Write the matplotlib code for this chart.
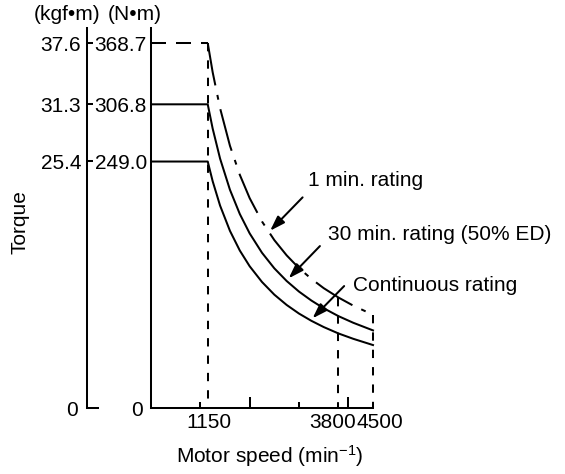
import matplotlib
matplotlib.use("Agg")
import matplotlib.pyplot as plt
from matplotlib.transforms import ScaledTranslation, blended_transform_factory

plt.rcParams['font.family'] = ['Liberation Sans', 'DejaVu Sans']
plt.rcParams['mathtext.fontset'] = 'custom'
plt.rcParams['mathtext.rm'] = 'Liberation Sans'
plt.rcParams['mathtext.it'] = 'Liberation Sans:italic'
plt.rcParams['mathtext.bf'] = 'Liberation Sans:bold'
plt.rcParams['lines.scale_dashes'] = False

# ---------------- data ----------------
speed = [0, 1150, 1250, 1400, 1600, 1800, 2000, 2250, 2500, 2750, 3000,
         3250, 3500, 3800, 4100, 4500]
torque_1min = [368.7, 368.7, 339.2, 302.9, 265.0, 235.6, 212.0, 188.4, 169.6,
               154.2, 141.3, 130.5, 121.1, 111.6, 103.4, 94.2]
torque_30min = [306.8, 306.8, 282.3, 252.0, 220.5, 196.0, 176.4, 156.8, 141.1,
                128.3, 117.6, 108.6, 100.8, 92.8, 86.1, 78.4]
torque_cont = [249.0, 249.0, 229.1, 204.5, 179.0, 159.1, 143.2, 127.3, 114.5,
               104.1, 95.4, 88.1, 81.8, 75.3, 69.9, 63.6]

nm_ticks = [249.0, 306.8, 368.7]
nm_labels = ["249.0", "306.8", "368.7"]
kgf_ticks = [25.4, 31.3, 37.6]
kgf_labels = ["25.4", "31.3", "37.6"]
x_labeled = [1150, 3800, 4500]
x_major = [2000, 4000]
x_minor = [1000, 3000]
marker_speeds = [1150, 3800, 4500]
marker_tops = [368.7, 111.6, 94.2]

labels = ["1 min. rating", "30 min. rating (50% ED)", "Continuous rating"]
label_xy = [(3180, 230.3), (3590, 174.8), (4095, 124.2)]
arrow_tail = [(3073, 212.8), (3424, 163.6), (3915, 123.2)]
arrow_head = [(2415, 179.1), (2791, 131.0), (3275, 90.6)]

NM_PER_KGF = 9.80665
FS = 15
LW = 1.45

W, H = 565, 474
fig = plt.figure(figsize=(W / 100, H / 100), dpi=100)

ax_l, ax_r, ax_b, ax_t = 151, 373, 408, 28
ax = fig.add_axes([ax_l / W, 1 - ax_b / H, (ax_r - ax_l) / W, (ax_b - ax_t) / H])
ymax = 383.9
ax.set_xlim(0, 4500)
ax.set_ylim(0, ymax)
ax.patch.set_alpha(0)
for s in ['top', 'right']:
    ax.spines[s].set_visible(False)
for s in ['left', 'bottom']:
    ax.spines[s].set_linewidth(LW)

# curves
ax.plot(speed[:2], torque_1min[:2], color='black', lw=LW,
        linestyle=(0, (10.8, 7.2)), dash_capstyle='butt', clip_on=False)
ax.plot(speed[1:], torque_1min[1:], color='black', lw=LW,
        linestyle=(0, (31, 7, 3.5, 7)), dash_capstyle='butt', clip_on=False)
ax.plot(speed, torque_30min, color='black', lw=LW, clip_on=False)
ax.plot(speed, torque_cont, color='black', lw=LW, clip_on=False)

# dashed vertical markers
for xs, top in zip(marker_speeds, marker_tops):
    ax.plot([xs, xs], [top, 0], color='black', lw=LW,
            linestyle=(0, (6, 6.5)), dash_capstyle='butt', clip_on=False)

# y ticks (N·m)
ax.set_yticks(nm_ticks)
ax.set_yticklabels(nm_labels)
ax.tick_params(axis='y', which='major', length=0, pad=2.9, labelsize=FS)
ax.set_yticks([0], minor=True)
ax.set_yticklabels(["0"], minor=True)
ax.tick_params(axis='y', which='minor', length=0, pad=5.8, labelsize=FS)

# x ticks
ax.set_xticks(x_major)
ax.set_xticklabels([""] * len(x_major))
ax.set_xticks(x_minor, minor=True)
ax.set_xticklabels([""] * len(x_minor), minor=True)
ax.tick_params(axis='x', which='major', direction='in', length=8, width=LW)
ax.tick_params(axis='x', which='minor', direction='in', length=4.5, width=LW)

xtr = blended_transform_factory(ax.transData, ax.transAxes)
offsets = [1, -6, 7]
for xv, off in zip(x_labeled, offsets):
    t = xtr + ScaledTranslation(off / 100, -5 / 100, fig.dpi_scale_trans)
    ax.text(xv, 0, str(xv), transform=t, ha='center', va='top', fontsize=FS)

# kgf axis
kx = 87
ax2 = fig.add_axes([kx / W, 1 - ax_b / H, 11 / W, (ax_b - ax_t) / H])
ax2.set_ylim(0, ymax / NM_PER_KGF)
ax2.set_xlim(0, 1)
ax2.patch.set_alpha(0)
for s in ['top', 'right']:
    ax2.spines[s].set_visible(False)
for s in ['left', 'bottom']:
    ax2.spines[s].set_linewidth(LW)
ax2.set_xticks([])
ax2.set_yticks(kgf_ticks)
ax2.set_yticklabels(kgf_labels)
ax2.tick_params(axis='y', which='major', direction='in', length=4.5, width=LW,
                pad=4.3, labelsize=FS)
ax2.set_yticks([0], minor=True)
ax2.set_yticklabels(["0"], minor=True)
ax2.tick_params(axis='y', which='minor', length=0, pad=6.5, labelsize=FS)

# annotations
for lab, lxy, tail, head in zip(labels, label_xy, arrow_tail, arrow_head):
    ax.text(lxy[0], lxy[1], lab, ha='left', va='center', fontsize=FS, clip_on=False)
    ax.annotate("", xy=head, xytext=tail,
                arrowprops=dict(arrowstyle='-|>,head_length=0.6,head_width=0.2',
                                mutation_scale=15, lw=LW, color='black',
                                shrinkA=0, shrinkB=0),
                annotation_clip=False)

# headers and axis titles
fig.text(67 / W, 1 - 15 / H, "(kgf\u2022m)", ha='center', va='center', fontsize=FS)
fig.text(135 / W, 1 - 15 / H, "(N\u2022m)", ha='center', va='center', fontsize=FS)
fig.text(20.5 / W, 1 - 222 / H, "Torque", ha='center', va='center',
         rotation=90, fontsize=FS)
fig.text(270 / W, 1 - 456 / H, "Motor speed (min$^{-1}$)", ha='center',
         va='center', fontsize=FS)

fig.savefig("out.png", dpi=100)
